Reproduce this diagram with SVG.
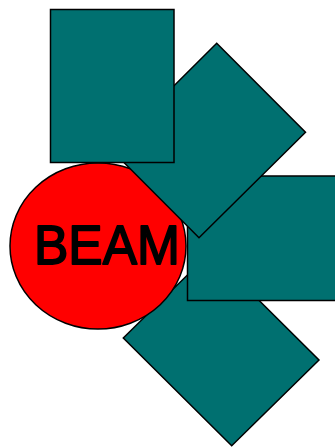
<svg xmlns="http://www.w3.org/2000/svg" width="335" height="448" viewBox="0 0 335 448">
<style>
.sh{fill:#007070;stroke:#000;stroke-width:1.5;stroke-linejoin:miter}
.beam{fill:#ff0000;stroke:#000;stroke-width:1.5}
.lbl{font-family:"Comic Sans MS","Liberation Sans",sans-serif;font-size:56px;fill:#000;stroke:#000;stroke-width:1.8;stroke-linejoin:round}
</style>
<rect width="335" height="448" fill="#fff"/>
<g id="diamond-bottom"><polygon class="sh" points="210.6,252.3 319,360 231.7,445.7 123.3,338"/></g>
<g id="beam"><ellipse class="beam" cx="98" cy="246" rx="88" ry="83"/></g>
<g id="rect-right"><rect class="sh" x="187.5" y="176" width="152" height="124.5"/></g>
<g id="diamond-top"><polygon class="sh" points="216.7,43.3 305.5,132.3 199,237.8 110.5,149"/></g>
<g id="rect-top"><rect class="sh" x="50.5" y="9.5" width="123.5" height="153"/></g>
<g id="label"><text class="lbl" x="34" y="263.5" textLength="146" lengthAdjust="spacingAndGlyphs">BEAM</text></g>
<g id="connectors"/>
</svg>
